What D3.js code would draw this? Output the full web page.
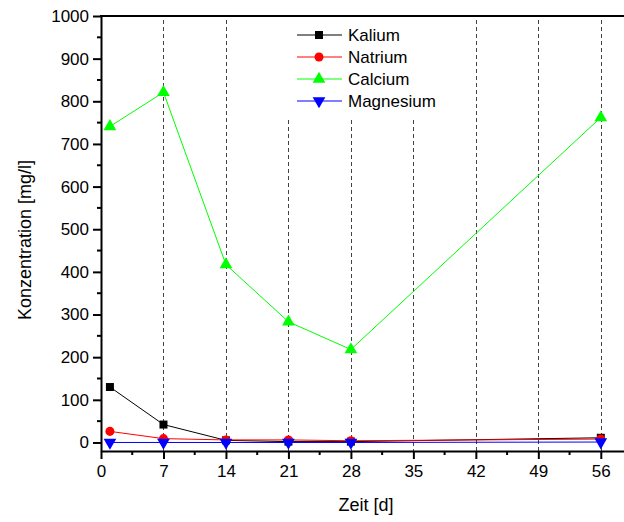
<!DOCTYPE html>
<html>
<head>
<meta charset="utf-8">
<script src="https://cdn.jsdelivr.net/npm/d3@7"></script>
<style>
    body { margin: 0; background: #fff; }
    text { font-family: Arial, "Liberation Sans", sans-serif; fill: #000; }
</style>
</head>
<body>
<script>
//data
var days = [1, 7, 14, 21, 28, 56];
var kalium = [130, 42, 5, 2, 2, 11];
var natrium = [26, 9, 6, 6, 4, 8];
var calcium = [741, 821, 417, 283, 218, 762];
var magnesium = [0, 0, 0, 0, 0, 1];
var xTicks = [0, 7, 14, 21, 28, 35, 42, 49, 56];
var yTicks = [0, 100, 200, 300, 400, 500, 600, 700, 800, 900, 1000];

var series = [
    { name: "Kalium", values: kalium, color: "#000000", symbol: d3.symbolSquare, size: 64, rot: 0 },
    { name: "Natrium", values: natrium, color: "#ff0000", symbol: d3.symbolCircle, size: 64, rot: 0 },
    { name: "Calcium", values: calcium, color: "#00ff00", symbol: d3.symbolTriangle, size: 70, rot: 0 },
    { name: "Magnesium", values: magnesium, color: "#0000ff", symbol: d3.symbolTriangle, size: 70, rot: 180 }
];

var width = 624, height = 522;
var plotLeft = 101, plotTop = 16, plotRight = 624, plotBottom = 451;

var svg = d3.select("body")
    .append("svg")
    .attr("width", width)
    .attr("height", height);

var x = d3.scaleLinear().domain([0, 58.6]).range([plotLeft, plotRight]);
var y = d3.scaleLinear().domain([-20, 1000]).range([plotBottom, plotTop]);

//vertical dashed lines, the ones behind the legend start lower
svg.selectAll(".vline")
    .data(xTicks.slice(1))
    .enter()
    .append("line")
    .attr("x1", function(d){ return Math.round(x(d)) + 0.5; })
    .attr("x2", function(d){ return Math.round(x(d)) + 0.5; })
    .attr("y1", function(d){ return (d >= 21 && d <= 35) ? 120 : plotTop + 4; })
    .attr("y2", plotBottom)
    .attr("stroke", "#444")
    .attr("stroke-width", 1)
    .attr("stroke-dasharray", "4,3");

//lines and markers
var line = d3.line()
    .x(function(d, i){ return x(days[i]); })
    .y(function(d){ return y(d); });

series.forEach(function(s){
    svg.append("path")
        .datum(s.values)
        .attr("d", line)
        .attr("fill", "none")
        .attr("stroke", s.color)
        .attr("stroke-width", 1);
});

series.forEach(function(s){
    svg.selectAll(".m-" + s.name)
        .data(s.values)
        .enter()
        .append("path")
        .attr("d", d3.symbol().type(s.symbol).size(s.size))
        .attr("transform", function(d, i){
            return "translate(" + x(days[i]) + "," + y(d) + ") rotate(" + s.rot + ")";
        })
        .attr("fill", s.color);
});

//axes
var yMinor = d3.range(50, 1000, 100);
var xMinor = d3.range(3.5, 58, 7);

var yAxis = svg.append("g")
    .attr("transform", "translate(" + plotLeft + ",0)")
    .call(d3.axisLeft(y).tickValues(yTicks).tickFormat(d3.format("d"))
        .tickSize(8).tickPadding(4).tickSizeOuter(0));
yAxis.selectAll("text").style("font-size", "17px");
yAxis.append("g").selectAll("line")
    .data(yMinor).enter().append("line")
    .attr("x1", -4).attr("x2", 0)
    .attr("y1", function(d){ return y(d); })
    .attr("y2", function(d){ return y(d); })
    .attr("stroke", "#000").attr("stroke-width", 2);

var xAxis = svg.append("g")
    .attr("transform", "translate(0," + plotBottom + ")")
    .call(d3.axisBottom(x).tickValues(xTicks).tickFormat(d3.format("d"))
        .tickSize(8).tickPadding(6).tickSizeOuter(0));
xAxis.selectAll("text").style("font-size", "17px");
xAxis.append("g").selectAll("line")
    .data(xMinor).enter().append("line")
    .attr("x1", function(d){ return x(d); })
    .attr("x2", function(d){ return x(d); })
    .attr("y1", 0).attr("y2", 4)
    .attr("stroke", "#000").attr("stroke-width", 2);

svg.selectAll(".domain").attr("stroke-width", 2);
svg.selectAll(".tick line").attr("stroke-width", 2);

//top frame line
svg.append("line")
    .attr("x1", plotLeft - 1).attr("x2", plotRight)
    .attr("y1", plotTop).attr("y2", plotTop)
    .attr("stroke", "#000").attr("stroke-width", 2);

//axis titles
svg.append("text")
    .attr("x", 366)
    .attr("y", 511)
    .attr("text-anchor", "middle")
    .style("font-size", "18px")
    .text("Zeit [d]");

svg.append("text")
    .attr("transform", "translate(31,240) rotate(-90)")
    .attr("text-anchor", "middle")
    .style("font-size", "18px")
    .text("Konzentration [mg/l]");

//legend
var legend = svg.append("g")
    .attr("transform", "translate(297,35)");

var items = legend.selectAll("g")
    .data(series)
    .enter()
    .append("g")
    .attr("transform", function(d, i){ return "translate(0," + i * 22 + ")"; });

items.append("line")
    .attr("x1", 0).attr("x2", 45)
    .attr("stroke", function(d){ return d.color; })
    .attr("stroke-width", 1);

items.append("path")
    .attr("d", function(d){ return d3.symbol().type(d.symbol).size(d.size)(); })
    .attr("transform", function(d){ return "translate(22,0) rotate(" + d.rot + ")"; })
    .attr("fill", function(d){ return d.color; });

items.append("text")
    .attr("x", 51)
    .attr("y", 6)
    .style("font-size", "17px")
    .text(function(d){ return d.name; });
</script>
</body>
</html>
